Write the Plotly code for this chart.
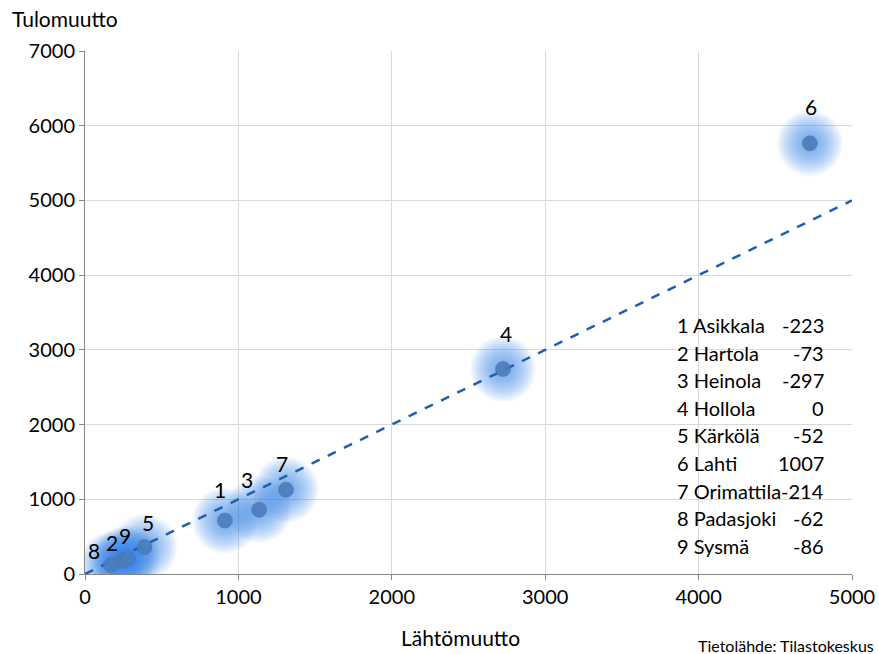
import plotly.graph_objects as go

# Data
labels = ["1", "2", "3", "4", "5", "6", "7", "8", "9"]
names = ["Asikkala", "Hartola", "Heinola", "Hollola", "Kärkölä", "Lahti", "Orimattila", "Padasjoki", "Sysmä"]
net = ["-223", "-73", "-297", "0", "-52", "1007", "-214", "-62", "-86"]
lahto = [912, 240, 1135, 2725, 388, 4725, 1310, 170, 278]   # Lähtömuutto (x)
tulo = [715, 177, 860, 2744, 360, 5765, 1128, 120, 204]     # Tulomuutto (y)
line_x = [0, 5000]
line_y = [0, 5000]

# label offsets in px (style)
label_dx = [-5, -10, -12, 3, 3, 1, -4, -17, -3]
label_dy = [31, 18, 30, 35, 25, 37, 26, 15, 23]

FONT = "Lato"
fig = go.Figure()

# soft glow layers
for size in range(66, 14, -3):
    fig.add_trace(go.Scatter(
        x=lahto, y=tulo, mode="markers",
        marker=dict(size=size, color="#4290ec", opacity=0.05, line=dict(width=0)),
        hoverinfo="skip", showlegend=False))

fig.add_trace(go.Scatter(
    x=line_x, y=line_y, mode="lines",
    line=dict(color="#1f5fae", width=2.5, dash="dash"),
    showlegend=False, hoverinfo="skip"))

fig.add_trace(go.Scatter(
    x=lahto, y=tulo, mode="markers",
    marker=dict(size=15, color="#4a7dc0", opacity=0.9, line=dict(width=0.6, color="#5a6f8a")),
    showlegend=False))

for i, lab in enumerate(labels):
    fig.add_annotation(x=lahto[i], y=tulo[i], text=lab, showarrow=False,
                       xshift=label_dx[i], yshift=label_dy[i],
                       font=dict(family=FONT, size=21, color="#000000"))

# text box table
y0_px = 325
step_px = 27.6
for i in range(len(names)):
    ypaper = 1 - (y0_px + i * step_px - 51) / (574 - 51)
    fig.add_annotation(xref="paper", yref="paper", x=(675 - 85) / (852 - 85), y=ypaper,
                       text=f"{labels[i]} {names[i]}", showarrow=False, xanchor="left",
                       yanchor="middle", font=dict(family=FONT, size=20, color="#000000"))
    fig.add_annotation(xref="paper", yref="paper", x=(826 - 85) / (852 - 85), y=ypaper,
                       text=net[i], showarrow=False, xanchor="right",
                       yanchor="middle", font=dict(family=FONT, size=20, color="#000000"))

fig.add_annotation(xref="paper", yref="paper", x=(10 - 85) / (852 - 85), y=1 + (51 - 18) / (574 - 51),
                   text="Tulomuutto", showarrow=False, xanchor="left", yanchor="middle",
                   font=dict(family=FONT, size=21, color="#000000"))
fig.add_annotation(xref="paper", yref="paper", x=(460 - 85) / (852 - 85), y=-(637 - 574) / (574 - 51),
                   text="Lähtömuutto", showarrow=False, xanchor="center", yanchor="middle",
                   font=dict(family=FONT, size=21, color="#000000"))
fig.add_annotation(xref="paper", yref="paper", x=(876 - 85) / (852 - 85), y=-(645 - 574) / (574 - 51),
                   text="Tietolähde: Tilastokeskus", showarrow=False, xanchor="right", yanchor="middle",
                   font=dict(family=FONT, size=16, color="#000000"))

fig.update_layout(
    width=879, height=654,
    margin=dict(l=85, r=27, t=51, b=80, autoexpand=False),
    paper_bgcolor="white", plot_bgcolor="white",
    font=dict(family=FONT, size=20, color="#000000"),
    xaxis=dict(range=[0, 5000], dtick=1000, tick0=0, showgrid=True, gridcolor="#d9d9d9", gridwidth=1,
               zeroline=False, showline=True, linecolor="#868686", linewidth=1, automargin=False,
               ticks="outside", ticklen=5, tickcolor="#868686", fixedrange=True,
               tickfont=dict(family=FONT, size=20)),
    yaxis=dict(range=[0, 7000], dtick=1000, tick0=0, showgrid=True, gridcolor="#d9d9d9", gridwidth=1,
               zeroline=False, showline=True, linecolor="#868686", linewidth=1, automargin=False,
               ticks="outside", ticklen=5, tickcolor="#868686", fixedrange=True,
               tickfont=dict(family=FONT, size=20)),
)

fig.write_html("out.html", config={"displayModeBar": False},
               post_script="document.body.style.margin='0';document.body.style.overflow='hidden';")
